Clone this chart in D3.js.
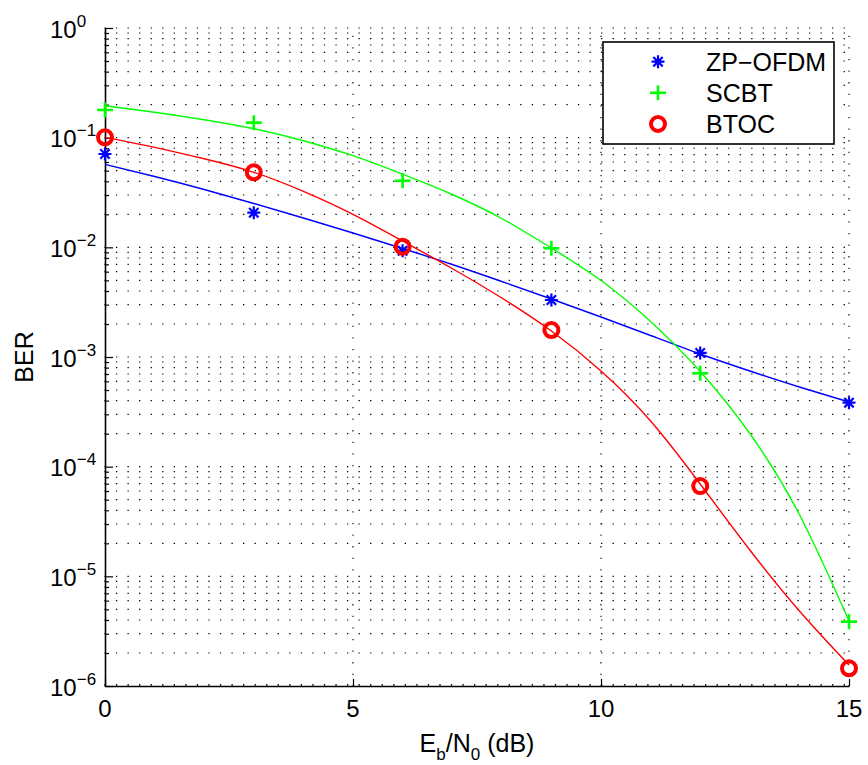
<!DOCTYPE html>
<html><head><meta charset="utf-8">
<script src="https://cdn.jsdelivr.net/npm/d3@7"></script>
<style>body{margin:0;background:#fff} text{font-family:"Liberation Sans",Arial,Helvetica,sans-serif;fill:#000}</style>
</head><body><svg id="c" width="868" height="765"></svg>
<script>
// ---- data ----
const snr = [0, 3, 6, 9, 12, 15];
const zpOfdm = [0.0710, 0.0207, 0.0093, 0.00331, 0.00109, 0.000383];
const scbt   = [0.179, 0.137, 0.0405, 0.0098, 0.00071, 3.86e-6];
const btoc   = [0.1008, 0.0483, 0.01014, 0.00176, 6.65e-5, 1.45e-6];
const fitSnr = [0, 1, 2, 3, 4, 5, 6, 7, 8, 9, 10, 11, 12, 13, 14, 15];
const zpFit   = [0.05716, 0.04424, 0.03369, 0.02510, 0.01851, 0.01351, 0.009759, 0.006977, 0.004882, 0.003380, 0.002316, 0.001570, 0.001065, 0.0007455, 0.0005326, 0.0003887];
const scbtFit = [0.1956, 0.1707, 0.1458, 0.1207, 0.09382, 0.06848, 0.04644, 0.03032, 0.01832, 0.009861, 0.004984, 0.002107, 0.0007377, 0.0002006, 3.663e-5, 3.915e-6];
const btocFit = [0.1008, 0.08167, 0.06416, 0.04833, 0.03243, 0.02001, 0.01142, 0.006412, 0.003451, 0.001726, 0.0007455, 0.0002609, 6.950e-5, 1.739e-5, 4.830e-6, 1.554e-6];
const xTickValues = [0, 5, 10, 15];
const yDecades = [-6, -5, -4, -3, -2, -1, 0];
const legendLabels = ["ZP\u2212OFDM", "SCBT", "BTOC"];

// ---- layout ----
const svg = d3.select("#c");
const L = 105, R = 849, T = 28, B = 686;
const x = d3.scaleLinear().domain([0, 15]).range([L, R]);
const y = d3.scaleLog().domain([1e-6, 1]).range([B, T]);

const minorVals = [];
yDecades.slice(0, -1).forEach(e => { for (let k = 1; k <= 9; k++) minorVals.push(k * Math.pow(10, e)); });
minorVals.push(1);

// grid (dotted)
const g = svg.append("g");
g.selectAll("line.h").data(minorVals).join("line")
  .attr("x1", L - 0.6).attr("x2", R + 1).attr("y1", d => y(d)).attr("y2", d => y(d))
  .attr("stroke", "#000").attr("stroke-width", 1.15).attr("stroke-dasharray", "1.3,10.25");
g.selectAll("line.v").data(xTickValues.slice(1)).join("line")
  .attr("x1", d => x(d)).attr("x2", d => x(d)).attr("y1", B + 0.6).attr("y2", T)
  .attr("stroke", "#000").attr("stroke-width", 1.15).attr("stroke-dasharray", "1.3,10.3");

// axes
const yAxis = d3.axisLeft(y).tickValues(minorVals).tickSizeInner(-4).tickSizeOuter(0).tickFormat("");
const ya = svg.append("g").attr("transform", `translate(${L},0)`).call(yAxis);
ya.selectAll(".tick line").filter(d => Math.abs(Math.log10(d) - Math.round(Math.log10(d))) < 1e-9).attr("x2", 8);
const xAxis = d3.axisBottom(x).tickValues(xTickValues).tickSizeInner(-7).tickSizeOuter(0).tickFormat("");
const xa = svg.append("g").attr("transform", `translate(0,${B})`).call(xAxis);
[ya, xa].forEach(a => {
  a.select(".domain").attr("stroke", "#000").attr("stroke-width", 1.6);
  a.selectAll(".tick line").attr("stroke", "#000").attr("stroke-width", 1.2);
});
// bumps of dotted grid line on bottom axis
svg.append("line").attr("x1", L - 0.6).attr("x2", R).attr("y1", B - 1.3).attr("y2", B - 1.3)
  .attr("stroke", "#000").attr("stroke-width", 1.3).attr("stroke-dasharray", "1.3,10.25");

// tick labels
const fs = 24;
yDecades.forEach(e => {
  const t = svg.append("text").attr("x", 79).attr("y", y(Math.pow(10, e)) + 9.5)
    .attr("font-size", fs).attr("text-anchor", "start");
  t.append("tspan").attr("x", 50).text("10");
  t.append("tspan").attr("dy", -11).attr("font-size", 17).text(e === 0 ? "0" : "\u2212" + (-e));
});
xTickValues.forEach(v => {
  svg.append("text").attr("x", x(v)).attr("y", 717).attr("font-size", fs).attr("text-anchor", "middle").text(v);
});

// axis labels
const xl = svg.append("text").attr("x", 477).attr("y", 752).attr("font-size", 25).attr("text-anchor", "middle");
xl.append("tspan").text("E");
xl.append("tspan").attr("font-size", 17).attr("dy", 8).text("b");
xl.append("tspan").attr("dy", -8).text("/N");
xl.append("tspan").attr("font-size", 17).attr("dy", 8).text("0");
xl.append("tspan").attr("dy", -8).text(" (dB)");
svg.append("text").attr("transform", "translate(33,357) rotate(-90)").attr("font-size", 25)
  .attr("text-anchor", "middle").text("BER");

// fitted curves
const line = d3.line().x(d => x(d[0])).y(d => y(d[1])).curve(d3.curveNatural);
const curves = [[zpFit, "#0000ff"], [scbtFit, "#00ff00"], [btocFit, "#ff0000"]];
curves.forEach(([vals, col]) => {
  svg.append("path").datum(fitSnr.map((s, i) => [s, vals[i]]))
    .attr("d", line).attr("fill", "none").attr("stroke", col).attr("stroke-width", 1.4);
});

// markers
function star(sel, cx, cy) {
  const r = 6.5, d = r * 0.72;
  const p = `M${cx - r},${cy}L${cx + r},${cy}M${cx},${cy - r}L${cx},${cy + r}M${cx - d},${cy - d}L${cx + d},${cy + d}M${cx - d},${cy + d}L${cx + d},${cy - d}`;
  sel.append("path").attr("d", p).attr("stroke", "#0000ff").attr("stroke-width", 2.2).attr("fill", "none");
}
function plus(sel, cx, cy) {
  const p = `M${cx - 8},${cy}L${cx + 8},${cy}M${cx},${cy - 7.5}L${cx},${cy + 7.5}`;
  sel.append("path").attr("d", p).attr("stroke", "#00ff00").attr("stroke-width", 2.6).attr("fill", "none");
}
function ring(sel, cx, cy) {
  sel.append("circle").attr("cx", cx).attr("cy", cy).attr("r", 7).attr("fill", "none")
    .attr("stroke", "#ff0000").attr("stroke-width", 4);
}
const mk = svg.append("g");
snr.forEach((s, i) => star(mk, x(s), y(zpOfdm[i])));
snr.forEach((s, i) => plus(mk, x(s), y(scbt[i])));
snr.forEach((s, i) => ring(mk, x(s), y(btoc[i])));

// legend
const lg = svg.append("g");
lg.append("rect").attr("x", 603).attr("y", 42).attr("width", 231).attr("height", 102)
  .attr("fill", "#fff").attr("stroke", "#000").attr("stroke-width", 1.6);
const rows = [61.7, 92.7, 124];
[star, plus, ring].forEach((f, i) => f(lg, 658, rows[i]));
legendLabels.forEach((t, i) => {
  lg.append("text").attr("x", 706).attr("y", rows[i] + 9).attr("font-size", 25).text(t);
});
</script></body></html>
